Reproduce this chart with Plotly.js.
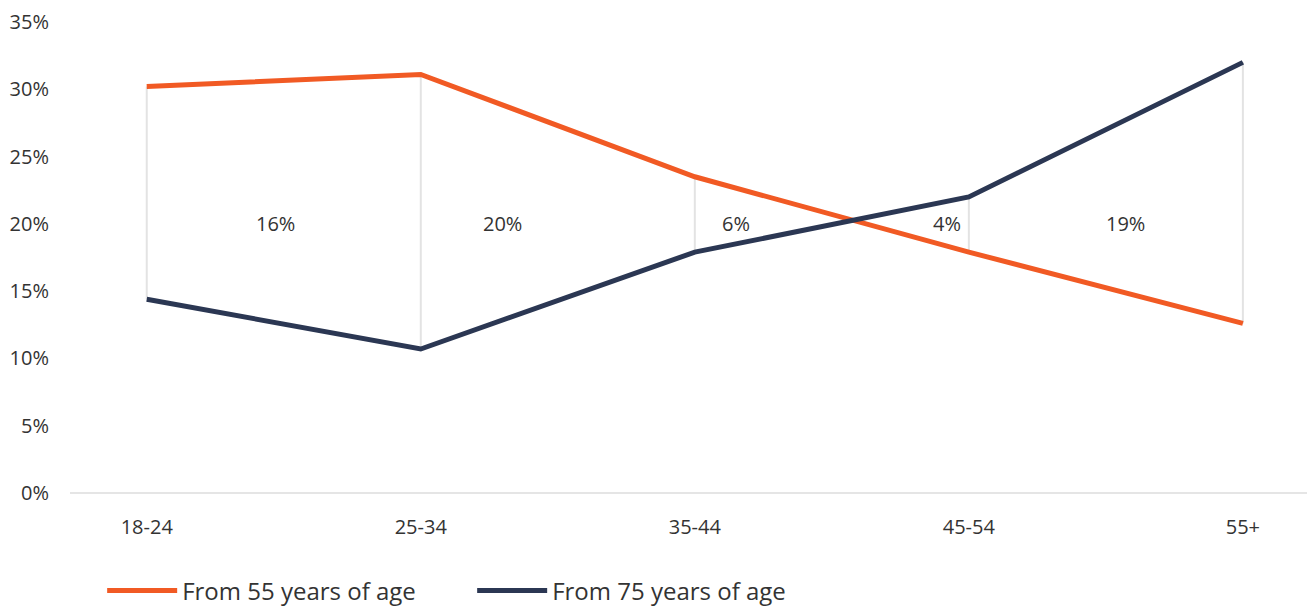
<!DOCTYPE html>
<html>
<head>
<meta charset="utf-8">
<script src="https://cdn.plot.ly/plotly-3.0.1.min.js"></script>
<style>html,body{margin:0;padding:0;background:#fff;}#chart{width:1307px;height:610px;}</style>
</head>
<body>
<div id="chart"></div>
<script>
const categories = ["18-24", "25-34", "35-44", "45-54", "55+"];
const from55 = [30.2, 31.1, 23.5, 17.9, 12.6];
const from75 = [14.4, 10.7, 17.9, 22.0, 32.0];
const gapLabels = ["16%", "20%", "6%", "4%", "19%"];
const gapLabelX = [0.47, 1.30, 2.15, 2.92, 3.57];
const gapLabelY = 20;
const yTicks = [0, 5, 10, 15, 20, 25, 30, 35];

const xIdx = categories.map((c, i) => i);

// connector lines between the two series at each category
const connX = [], connY = [];
xIdx.forEach(i => { connX.push(i, i, null); connY.push(from55[i], from75[i], null); });

const font = "'Open Sans', 'DejaVu Sans', sans-serif";

const traces = [
  {x: connX, y: connY, mode: "lines", line: {color: "#e3e3e3", width: 2}, showlegend: false, hoverinfo: "skip"},
  {x: xIdx, y: from55, name: "From 55 years of age", mode: "lines", line: {color: "#f15a24", width: 5}},
  {x: xIdx, y: from75, name: "From 75 years of age", mode: "lines", line: {color: "#2b3753", width: 5}}
];

const layout = {
  width: 1307, height: 610,
  margin: {l: 70, r: 0, t: 22, b: 117, autoexpand: false},
  paper_bgcolor: "#fff", plot_bgcolor: "#fff",
  font: {family: font, color: "#333", size: 20},
  xaxis: {
    range: [-0.28, 4.234], tickvals: xIdx, ticktext: categories,
    showgrid: false, zeroline: false, showline: false,
    ticks: "", ticklabelstandoff: 20, tickfont: {size: 20, color: "#333"}
  },
  yaxis: {
    range: [0, 35], tickvals: yTicks, ticktext: yTicks.map(v => v + "%"),
    showgrid: false, zeroline: true, zerolinecolor: "#e5e5e5", zerolinewidth: 2,
    showline: false, ticks: "", ticklabelstandoff: 20, tickfont: {size: 20, color: "#333"}
  },
  showlegend: true,
  legend: {
    orientation: "h", x: 0.026, xanchor: "left", y: -0.208, yanchor: "middle",
    font: {size: 24, color: "#333"}, entrywidth: 285, entrywidthmode: "pixels",
    itemwidth: 70
  },
  annotations: gapLabels.map((t, i) => ({
    x: gapLabelX[i], y: gapLabelY, text: t, showarrow: false,
    font: {size: 20, color: "#333"}, xanchor: "center", yanchor: "middle"
  }))
};

Plotly.newPlot("chart", traces, layout, {staticPlot: true});
</script>
</body>
</html>
